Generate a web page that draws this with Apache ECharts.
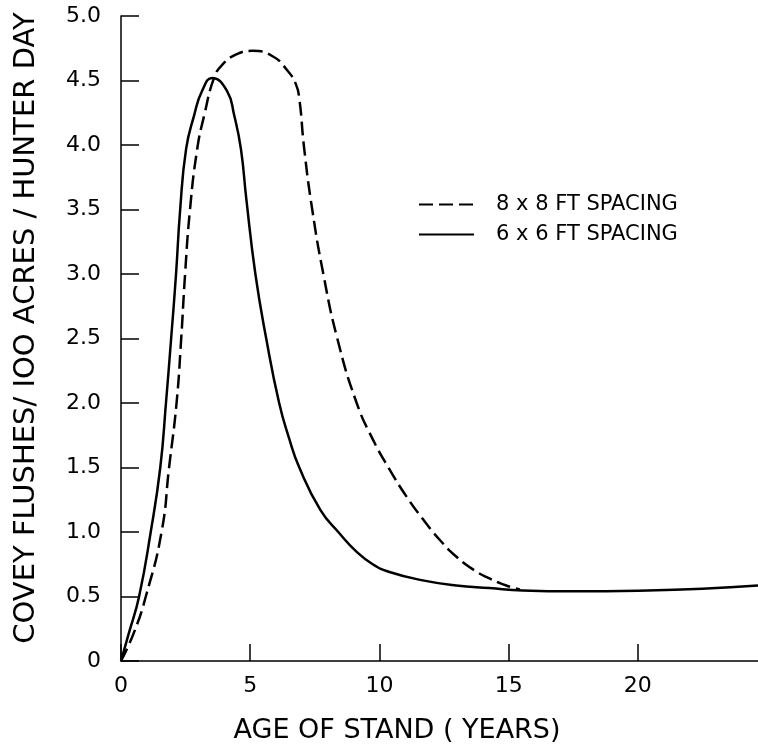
<!DOCTYPE html>
<html>
<head>
<meta charset="utf-8">
<script src="https://cdn.jsdelivr.net/npm/echarts@6/dist/echarts.min.js"></script>
<style>
  html, body { margin: 0; padding: 0; background: #fff; }
  #chart { width: 758px; height: 748px; }
</style>
</head>
<body>
<div id="chart"></div>
<script>
// 6 x 6 ft spacing (solid)
const ageSolid = [0, 0.31, 0.70, 1.15, 1.52, 1.74, 1.94, 2.13, 2.29, 2.52, 2.83, 3.14, 3.53, 4.1, 4.38, 4.64, 4.85, 5.2, 5.62, 6.12, 6.5, 6.9, 7.72, 8.45, 9.10, 9.74, 10.39, 11.68, 12.97, 14.26, 15.55, 17.5, 20.0, 22.5, 24.65];
const flushSolid = [0, 0.22, 0.5, 1.0, 1.5, 2.0, 2.5, 3.0, 3.5, 3.97, 4.23, 4.42, 4.52, 4.42, 4.23, 3.97, 3.58, 3.0, 2.5, 2.0, 1.73, 1.5, 1.17, 0.99, 0.85, 0.75, 0.69, 0.625, 0.585, 0.565, 0.547, 0.54, 0.545, 0.56, 0.585];

// 8 x 8 ft spacing (dashed)
const ageDashed = [0, 0.5, 0.96, 1.57, 1.86, 2.15, 2.33, 2.48, 2.67, 2.95, 3.22, 3.6, 3.91, 4.44, 5.08, 5.85, 6.43, 6.77, 6.9, 7.09, 7.4, 7.83, 8.37, 9.12, 9.74, 10.39, 11.03, 11.68, 12.33, 12.97, 13.62, 14.26, 14.91, 15.43];
const flushDashed = [0, 0.22, 0.5, 1.0, 1.5, 2.0, 2.5, 3.0, 3.5, 3.97, 4.23, 4.52, 4.62, 4.70, 4.73, 4.69, 4.58, 4.47, 4.36, 3.97, 3.5, 3.0, 2.5, 2.0, 1.72, 1.485, 1.28, 1.10, 0.94, 0.81, 0.71, 0.64, 0.585, 0.555];

const xTicks = [0, 5, 10, 15, 20];
const yTickLabels = ['0', '0.5', '1.0', '1.5', '2.0', '2.5', '3.0', '3.5', '4.0', '4.5', '5.0'];

const FONT = '"DejaVu Sans", sans-serif';

const pairs = (xs, ys) => xs.map((x, i) => [x, ys[i]]);

const chart = echarts.init(document.getElementById('chart'));
chart.setOption({
  animation: false,
  backgroundColor: '#fff',
  grid: { left: 121, right: 0, top: 16, bottom: 87, containLabel: false },
  title: {
    text: 'AGE OF STAND ( YEARS)',
    left: 397,
    top: 717,
    padding: 0,
    textAlign: 'center',
    textStyle: { fontFamily: FONT, fontSize: 27, fontWeight: 'normal', color: '#000' }
  },
  graphic: [{
    type: 'text',
    x: 26,
    y: 328,
    rotation: Math.PI / 2,
    style: {
      text: 'COVEY FLUSHES/ IOO ACRES / HUNTER DAY',
      fontFamily: FONT,
      fontSize: 29,
      fill: '#000',
      textAlign: 'center',
      textVerticalAlign: 'middle'
    }
  }],
  legend: {
    orient: 'vertical',
    left: 413,
    top: 189,
    itemWidth: 55,
    itemHeight: 14,
    itemGap: 9,
    itemStyle: { opacity: 0 },
    lineStyle: { width: 2 },
    textStyle: { fontFamily: FONT, fontSize: 21, color: '#000', padding: [0, 0, 0, 17] },
    data: ['8 x 8 FT SPACING', '6 x 6 FT SPACING']
  },
  xAxis: {
    type: 'value',
    min: 0,
    max: 24.65,
    interval: 5,
    axisLine: { lineStyle: { color: '#000', width: 1.5 } },
    axisTick: { inside: true, length: 17, lineStyle: { color: '#000', width: 1.5 } },
    axisLabel: {
      margin: 14,
      showMaxLabel: false,
      fontFamily: FONT, fontSize: 22, color: '#000',
      formatter: v => (xTicks.indexOf(v) >= 0 ? String(v) : '')
    },
    splitLine: { show: false }
  },
  yAxis: {
    type: 'value',
    min: 0,
    max: 5,
    interval: 0.5,
    axisLine: { show: true, lineStyle: { color: '#000', width: 1.5 } },
    axisTick: { show: true, inside: true, length: 18, lineStyle: { color: '#000', width: 1.5 } },
    axisLabel: {
      margin: 20,
      fontFamily: FONT, fontSize: 22, color: '#000',
      formatter: v => yTickLabels[Math.round(v * 2)]
    },
    splitLine: { show: false }
  },
  series: [
    {
      name: '8 x 8 FT SPACING',
      type: 'line',
      data: pairs(ageDashed, flushDashed),
      smooth: 0.5,
      symbol: 'none',
      lineStyle: { color: '#000', width: 2.5, type: [14, 6] },
      itemStyle: { color: '#000' }
    },
    {
      name: '6 x 6 FT SPACING',
      type: 'line',
      data: pairs(ageSolid, flushSolid),
      smooth: 0.5,
      symbol: 'none',
      lineStyle: { color: '#000', width: 2.5 },
      itemStyle: { color: '#000' }
    }
  ]
});
</script>
</body>
</html>
